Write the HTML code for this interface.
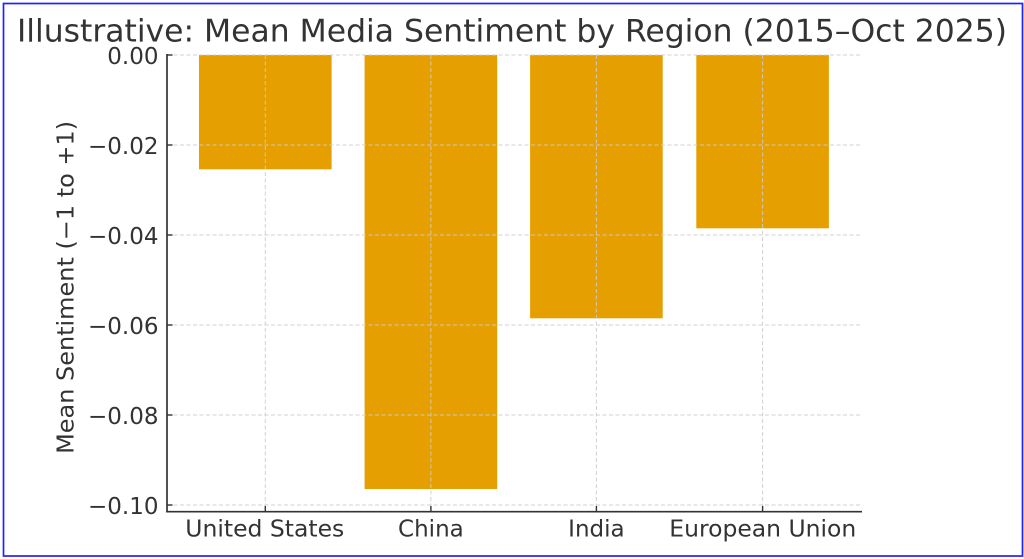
<!DOCTYPE html>
<html>
<head>
<meta charset="utf-8">
<style>
  html, body { margin: 0; padding: 0; background: #ffffff; }
  svg { display: block; }
  text { font-family: "DejaVu Sans", "Liberation Sans", sans-serif; fill: #333333; }
</style>
</head>
<body>
<svg width="1024" height="559" viewBox="0 0 1024 559" xmlns="http://www.w3.org/2000/svg">
  <rect x="0" y="0" width="1024" height="559" fill="#ffffff"/>
  <!-- blue frame -->
  <rect x="3.5" y="3.5" width="1019" height="552.5" fill="none" stroke="#2222ff" stroke-width="1.7"/>

  <!-- title -->
  <text x="17" y="41.7" font-size="31" textLength="990" lengthAdjust="spacingAndGlyphs">Illustrative: Mean Media Sentiment by Region (2015–Oct 2025)</text>

  <!-- bars -->
  <g fill="#E69F00">
    <rect x="199" y="55" width="132.6" height="114.3"/>
    <rect x="364.6" y="55" width="132.6" height="434"/>
    <rect x="530.1" y="55" width="132.6" height="263.3"/>
    <rect x="696.3" y="55" width="132.6" height="173.3"/>
  </g>

  <!-- grid -->
  <g stroke="#cccccc" stroke-width="1" stroke-dasharray="4 2.5" fill="none" opacity="0.9">
    <line x1="167" y1="55" x2="861" y2="55"/>
    <line x1="167" y1="145" x2="861" y2="145"/>
    <line x1="167" y1="235" x2="861" y2="235"/>
    <line x1="167" y1="325" x2="861" y2="325"/>
    <line x1="167" y1="415" x2="861" y2="415"/>
    <line x1="167" y1="505" x2="861" y2="505"/>
    <line x1="265.3" y1="55" x2="265.3" y2="511"/>
    <line x1="430.9" y1="55" x2="430.9" y2="511"/>
    <line x1="596.4" y1="55" x2="596.4" y2="511"/>
    <line x1="762.6" y1="55" x2="762.6" y2="511"/>
  </g>

  <!-- spines -->
  <g stroke="#333333" stroke-width="1.7" fill="none">
    <line x1="167" y1="54" x2="167" y2="512.5"/>
    <line x1="166.2" y1="511.7" x2="862" y2="511.7"/>
  </g>
  <!-- ticks (inward) -->
  <g stroke="#333333" stroke-width="1.4">
    <line x1="167" y1="55" x2="172.5" y2="55"/>
    <line x1="167" y1="145" x2="172.5" y2="145"/>
    <line x1="167" y1="235" x2="172.5" y2="235"/>
    <line x1="167" y1="325" x2="172.5" y2="325"/>
    <line x1="167" y1="415" x2="172.5" y2="415"/>
    <line x1="167" y1="505" x2="172.5" y2="505"/>
    <line x1="265.3" y1="511.7" x2="265.3" y2="506"/>
    <line x1="430.9" y1="511.7" x2="430.9" y2="506"/>
    <line x1="596.4" y1="511.7" x2="596.4" y2="506"/>
    <line x1="762.6" y1="511.7" x2="762.6" y2="506"/>
  </g>

  <!-- y tick labels -->
  <g font-size="23" text-anchor="end">
    <text x="158.5" y="63.8">0.00</text>
    <text x="158.5" y="153.8">−0.02</text>
    <text x="158.5" y="243.8">−0.04</text>
    <text x="158.5" y="333.8">−0.06</text>
    <text x="158.5" y="423.8">−0.08</text>
    <text x="158.5" y="513.8">−0.10</text>
  </g>

  <!-- x tick labels -->
  <g font-size="23" text-anchor="middle">
    <text x="264.8" y="536.7" textLength="159" lengthAdjust="spacingAndGlyphs">United States</text>
    <text x="430.9" y="536.7">China</text>
    <text x="596.4" y="536.7">India</text>
    <text x="762.8" y="536.7" textLength="187" lengthAdjust="spacingAndGlyphs">European Union</text>
  </g>

  <!-- y axis label -->
  <text transform="translate(73.3,287.4) rotate(-90)" font-size="23" text-anchor="middle" textLength="333" lengthAdjust="spacingAndGlyphs">Mean Sentiment (−1 to +1)</text>
</svg>
</body>
</html>
